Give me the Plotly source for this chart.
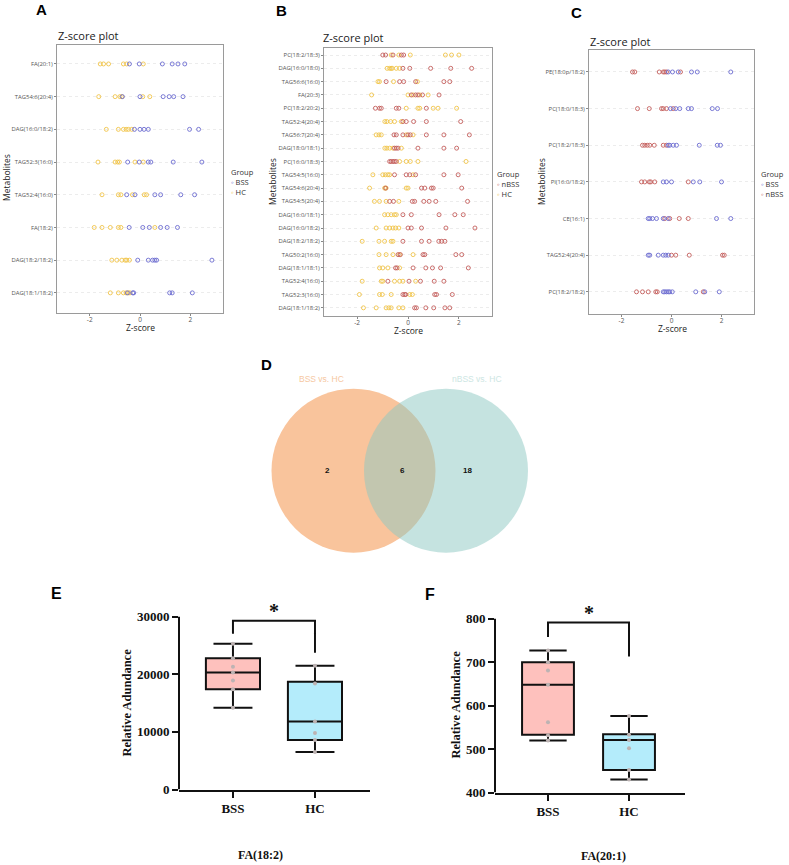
import plotly.graph_objects as go

W, H = 789, 865
H_EFF = 857.5  # observed effective vertical extent of the photographed page
def PX(x): return x / W
def PY(y): return 1 - y / H_EFF

BSS_COLOR = "#6c6cd0"
HC_COLOR = "#f0c44a"
NBSS_COLOR = "#c45f5c"

# ---------------- Panel A: BSS vs HC ----------------
A_metabolites = ["FA(20:1)", "TAG54:6(20:4)", "DAG(16:0/18:2)", "TAG52:3(16:0)",
                 "TAG52:4(16:0)", "FA(18:2)", "DAG(18:2/18:2)", "DAG(18:1/18:2)"]
A_BSS = [
    [-0.42, -0.03, 0.89, 1.28, 1.51, 1.78],
    [-0.70, 0.00, 0.92, 1.16, 1.34, 1.71],
    [-0.22, 0.00, 0.16, 0.33, 1.97, 2.33],
    [-0.49, -0.03, 0.33, 0.43, 1.32, 2.46],
    [-0.53, -0.20, 0.59, 0.82, 1.62, 2.17],
    [-0.43, 0.11, 0.37, 0.82, 1.08, 1.49],
    [-0.09, 0.33, 0.50, 0.59, 0.66, 2.86],
    [-0.50, -0.29, -0.25, 1.18, 1.28, 2.08],
]
A_HC = [
    [-1.58, -1.45, -1.25, -0.66, -0.53, 0.13],
    [-1.64, -0.99, -0.80, -0.72, 0.11, 0.39],
    [-1.34, -0.86, -0.66, -0.55, -0.46, -0.33],
    [-1.67, -0.99, -0.89, -0.82, -0.20, 0.13],
    [-1.51, -0.86, -0.76, -0.30, 0.17, 0.26],
    [-1.82, -1.51, -1.18, -0.86, -0.76, 0.59],
    [-1.12, -0.92, -0.72, -0.59, -0.53, -0.42],
    [-1.18, -0.86, -0.66, -0.55, -0.46, -0.40],
]

# ---------------- Panel B: nBSS vs HC ----------------
B_metabolites = ["PC(18:2/18:3)", "DAG(16:0/18:0)", "TAG56:6(16:0)", "FA(20:3)", "PC(18:2/20:2)",
                 "TAG52:4(20:4)", "TAG56:7(20:4)", "DAG(18:0/18:1)", "PC(16:0/18:3)", "TAG54:5(16:0)",
                 "TAG54:6(20:4)", "TAG54:5(20:4)", "DAG(16:0/18:1)", "DAG(16:0/18:2)", "DAG(18:2/18:2)",
                 "TAG50:2(16:0)", "DAG(18:1/18:1)", "TAG52:4(16:0)", "TAG52:3(16:0)", "DAG(18:1/18:2)"]
B_nBSS = [
    [-0.99, -0.88, -0.59, -0.26, -0.17],
    [-0.20, 0.07, 0.89, 1.68, 2.50],
    [-0.86, -0.33, -0.17, 0.30, 1.41, 1.64],
    [0.13, 0.30, 0.39, 0.57, 1.22],
    [-1.28, -1.12, -1.05, -0.46, -0.36, 0.72],
    [-0.20, -0.07, 0.22, 0.72, 2.07],
    [-0.55, -0.46, -0.20, 0.00, 0.09, 0.72, 1.41, 2.41],
    [-0.53, -0.46, -0.39, 0.39, 1.41, 1.91],
    [-0.72, -0.66, -0.59, -0.53, -0.46],
    [-0.53, -0.07, 0.07, 0.30, 1.41, 1.97],
    [-0.88, 0.53, 0.66, 0.92, 0.99, 2.11],
    [-0.72, -0.57, 0.17, 0.26, 0.62, 0.83, 1.09, 2.34],
    [-0.20, 0.13, 1.22, 1.84, 2.17],
    [0.00, 0.13, 0.53, 1.49, 2.63],
    [-0.20, 0.53, 0.83, 1.21, 1.32, 1.45],
    [-0.39, -0.30, 0.59, 0.66, 1.88, 2.11],
    [-0.49, -0.43, 0.20, 0.70, 0.96, 1.28, 2.37],
    [-0.79, 0.04, 0.49, 1.03, 1.41],
    [-0.20, -0.13, -0.09, 1.05, 1.12, 1.74],
    [0.26, 0.33, 0.70, 1.01, 1.45, 1.64],
]
B_HC = [
    [-0.66, -0.36, 0.09, 1.47, 1.71, 2.00],
    [-0.82, -0.72, -0.66, -0.62, -0.46, -0.33],
    [-1.18, -1.12, -0.57, 0.37],
    [-1.43, 0.00, 0.20, 0.46, 0.79],
    [-0.07, 0.39, 0.46, 0.99, 1.18, 1.91],
    [-0.91, -0.83, -0.68, -0.53, -0.26],
    [-1.25, -1.14, -1.05, -0.07, 0.20],
    [-0.91, -0.83, -0.72, -0.59, -0.26],
    [-0.33, -0.07, 0.09, 0.39, 2.28],
    [-1.38, -0.99, -0.89, -0.79, -0.72, 0.20],
    [-1.51, -0.92, -0.86, -0.07, 0.00],
    [-1.32, -1.12, -0.86, -0.36],
    [-0.92, -0.79, -0.66, -0.53, -0.46],
    [-1.25, -0.86, -0.72, -0.59, -0.49, -0.36],
    [-1.80, -1.14, -0.92, -0.66, -0.59],
    [-1.14, -0.86, -0.59, -0.33, 0.20],
    [-1.12, -0.99, -0.79, -0.33],
    [-1.80, -1.05, -0.99, -0.53, -0.33, -0.20, 0.30],
    [-1.91, -1.12, -1.01, -0.66, 0.07, 0.17],
    [-1.75, -1.25, -0.86, -0.75, -0.66, -0.36, -0.20],
]

# ---------------- Panel C: BSS vs nBSS ----------------
C_metabolites = ["PE(18:0p/18:2)", "PC(18:0/18:3)", "PC(18:2/18:3)", "PI(16:0/18:2)",
                 "CE(16:1)", "TAG52:4(20:4)", "PC(18:2/18:2)"]
C_BSS = [
    [-0.13, 0.04, 0.27, 0.80, 1.03, 2.37],
    [-0.04, 0.17, 0.33, 0.67, 0.80, 1.63, 1.84],
    [-0.13, -0.07, 0.07, 0.20, 1.11, 1.83, 1.96],
    [-0.33, -0.20, 0.00, 0.87, 1.13, 2.00],
    [-0.93, -0.87, -0.76, -0.60, -0.33, -0.13, 1.80, 2.37],
    [-0.93, -0.87, -0.53, -0.33, -0.23, -0.13],
    [-0.33, -0.27, -0.20, -0.13, -0.07, 0.03, 0.97, 1.33, 1.91],
]
C_nBSS = [
    [-1.56, -1.47, -0.49, -0.33, -0.27, -0.20, 0.36],
    [-1.36, -0.89, -0.40, -0.33, -0.20, 0.07],
    [-1.16, -1.07, -0.97, -0.87, -0.69, -0.33, -0.20],
    [-1.20, -1.07, -0.89, -0.83, -0.67, 0.67],
    [-0.27, -0.07, 0.31, 0.67],
    [0.00, 0.17, 0.71, 2.04, 2.11],
    [-1.40, -1.16, -0.93, -0.63, -0.57, 1.27],
]

# ---------------- Panel D: Venn ----------------
venn_sets = ["BSS vs. HC", "nBSS vs. HC"]
venn_counts = [2, 6, 18]  # only BSS, shared, only nBSS

# ---------------- Panels E / F: box plots ----------------
box_groups = ["BSS", "HC"]
E_stats = {"q1": [17400, 8600], "median": [20300, 11800], "q3": [22800, 18700],
           "low": [14200, 6500], "high": [25300, 21500]}
E_points = [[14200, 17400, 18900, 20300, 21300, 22800, 25300],
            [6500, 8600, 9800, 11800, 18400, 21500]]
E_bracket = [27050, 29300, 29300, 23750]
F_stats = {"q1": [533, 452], "median": [648, 521], "q3": [700, 534],
           "low": [520, 430], "high": [727, 576]}
F_points = [[520, 532, 562, 648, 681, 700, 727],
            [430, 452, 502, 521, 533, 576]]
F_bracket = [758, 791, 791, 713]

fig = go.Figure()

def dots(cats, values, color, xa, ya):
    xs, ys = [], []
    for c, vals in zip(cats, values):
        xs += vals
        ys += [c] * len(vals)
    fig.add_trace(go.Scatter(x=xs, y=ys, mode="markers", xaxis=xa, yaxis=ya, showlegend=False,
                             marker=dict(symbol="circle-open", size=4, color=color, line=dict(width=0.9))))

dots(A_metabolites, A_HC, HC_COLOR, "x", "y")
dots(A_metabolites, A_BSS, BSS_COLOR, "x", "y")
dots(B_metabolites, B_HC, HC_COLOR, "x2", "y2")
dots(B_metabolites, B_nBSS, NBSS_COLOR, "x2", "y2")
dots(C_metabolites, C_nBSS, NBSS_COLOR, "x3", "y3")
dots(C_metabolites, C_BSS, BSS_COLOR, "x3", "y3")

# invisible trace to activate Venn axes
fig.add_trace(go.Scatter(x=[300], y=[470], mode="markers", marker=dict(opacity=0),
                         xaxis="x4", yaxis="y4", showlegend=False, hoverinfo="skip"))

box_fill = ["#fec1bd", "#b4ecfb"]

def boxes(stats, points, bracket, xa, ya, width):
    for i, g in enumerate(box_groups):
        fig.add_trace(go.Box(x=[g], q1=[stats["q1"][i]], median=[stats["median"][i]], q3=[stats["q3"][i]],
                             lowerfence=[stats["low"][i]], upperfence=[stats["high"][i]],
                             fillcolor=box_fill[i], line=dict(color="#111111", width=2),
                             width=width, whiskerwidth=0.72, boxpoints=False,
                             xaxis=xa, yaxis=ya, showlegend=False))
        fig.add_trace(go.Scatter(x=[g] * len(points[i]), y=points[i], mode="markers",
                                 marker=dict(size=4, color="#bdb3b3"),
                                 xaxis=xa, yaxis=ya, showlegend=False))
    fig.add_trace(go.Scatter(x=[box_groups[0], box_groups[0], box_groups[1], box_groups[1]], y=bracket,
                             mode="lines", line=dict(color="#111111", width=2),
                             xaxis=xa, yaxis=ya, showlegend=False))

boxes(E_stats, E_points, E_bracket, "x5", "y5", 0.66)
boxes(F_stats, F_points, F_bracket, "x6", "y6", 0.64)

FONT = "Open Sans"
tickfont = dict(family=FONT, size=5.9, color="#555555")

def dot_axes(xdom, ydom, cats, top_pad, bot_pad):
    xa = dict(domain=xdom, range=[-3.3, 3.3], tickvals=[-2, 0, 2], ticktext=["-2", "0", "2"],
              ticks="outside", ticklen=2, tickcolor="#888888", ticklabelstandoff=-2,
              tickfont=dict(family=FONT, size=6.5, color="#555555"),
              showline=True, mirror=True, linecolor="#9a9a9a", linewidth=1,
              showgrid=False, zeroline=False)
    ya = dict(domain=ydom, type="category", categoryorder="array", categoryarray=cats,
              range=[len(cats) - 1 + bot_pad, -top_pad],
              ticks="outside", ticklen=2, tickcolor="#888888", tickfont=tickfont,
              showline=True, mirror=True, linecolor="#9a9a9a", linewidth=1,
              showgrid=True, gridcolor="#ececec", griddash="dot", gridwidth=1, zeroline=False)
    return xa, ya

xa1, ya1 = dot_axes([PX(57), PX(223)], [PY(313), PY(45)], A_metabolites, 0.58, 0.61)
xa2, ya2 = dot_axes([PX(324), PX(492)], [PY(316), PY(48)], B_metabolites, 0.53, 0.6)
xa3, ya3 = dot_axes([PX(589), PX(754)], [PY(314), PY(50)], C_metabolites, 0.6, 0.6)
ya2["anchor"] = "x2"; xa2["anchor"] = "y2"
ya3["anchor"] = "x3"; xa3["anchor"] = "y3"

serif_tick = dict(family="Liberation Serif", size=13, color="#111111", weight="bold")

def box_axes(xdom, ydom, xr, yr, tickvals, anchor_x, anchor_y):
    xa = dict(domain=xdom, range=xr, type="category", anchor=anchor_y,
              showline=True, linecolor="#111111", linewidth=2, ticks="outside", ticklen=6,
              tickwidth=2, tickcolor="#111111", tickfont=serif_tick, showgrid=False, zeroline=False)
    ya = dict(domain=ydom, range=yr, anchor=anchor_x, tickvals=tickvals,
              ticktext=[str(v) for v in tickvals],
              showline=False, ticks="outside", ticklen=6, tickwidth=2, tickcolor="#111111",
              tickfont=serif_tick, showgrid=False, zeroline=False)
    return xa, ya

xa5, ya5 = box_axes([PX(179), PX(370)], [PY(790), PY(602.6)], [-0.658, 1.671], [0, 32500],
                    [0, 10000, 20000, 30000], "x5", "y5")
xa6, ya6 = box_axes([PX(495), PX(685)], [PY(793), PY(606)], [-0.654, 1.691], [400, 830],
                    [400, 500, 600, 700, 800], "x6", "y6")

fig.update_layout(
    width=W, height=H, margin=dict(l=0, r=0, t=0, b=0),
    plot_bgcolor="white", paper_bgcolor="white", showlegend=False,
    xaxis=xa1, yaxis=ya1, xaxis2=xa2, yaxis2=ya2, xaxis3=xa3, yaxis3=ya3,
    xaxis4=dict(domain=[PX(250), PX(550)], range=[250, 550], visible=False, anchor="y4"),
    yaxis4=dict(domain=[PY(560), PY(370)], range=[560, 370], visible=False, anchor="x4"),
    xaxis5=xa5, yaxis5=ya5, xaxis6=xa6, yaxis6=ya6,
)

shapes = []
# Venn circles
shapes.append(dict(type="circle", xref="x4", yref="y4", x0=271.5, x1=435.5, y0=389, y1=553,
                   fillcolor="rgb(249,196,156)", line=dict(width=0), layer="below"))
shapes.append(dict(type="circle", xref="x4", yref="y4", x0=364, x1=528, y0=389, y1=553,
                   fillcolor="rgba(139,199,193,0.5)", line=dict(width=0), layer="below"))
# y axis lines of box plots (ending at top tick)
shapes.append(dict(type="line", xref="x5 domain", yref="y5", x0=0, x1=0, y0=0, y1=30000,
                   line=dict(color="#111111", width=2)))
shapes.append(dict(type="line", xref="x6 domain", yref="y6", x0=0, x1=0, y0=400, y1=800,
                   line=dict(color="#111111", width=2)))
fig.update_layout(shapes=shapes)

ann = []
def text(x, y, s, size, color="#222222", family=FONT, bold=False, xanchor="center", yanchor="middle",
         angle=0, align="center", xref="paper", yref="paper"):
    ann.append(dict(x=x if xref != "paper" else PX(x), y=y if yref != "paper" else PY(y),
                    xref=xref, yref=yref, text=("<b>%s</b>" % s) if bold else s,
                    showarrow=False, xanchor=xanchor, yanchor=yanchor, textangle=angle, align=align,
                    font=dict(size=size, color=color, family=family)))

LETTER = "Liberation Sans"
text(41, 10, "A", 15, "#000000", LETTER, True)
text(281, 11, "B", 15, "#000000", LETTER, True)
text(576, 13, "C", 15, "#000000", LETTER, True)
text(266, 365, "D", 15, "#000000", LETTER, True)
text(56, 594, "E", 16, "#000000", LETTER, True)
text(430, 595, "F", 16, "#000000", LETTER, True)

# dot plot titles / axis titles
text(56, 36, "Z-score plot", 11, "#222222", FONT, xanchor="left")
text(321, 38, "Z-score plot", 11, "#222222", FONT, xanchor="left")
text(588, 42, "Z-score plot", 11, "#222222", FONT, xanchor="left")
text(140, 328, "Z-score", 8.5, "#222222")
text(408, 331, "Z-score", 8.5, "#222222")
text(672, 329, "Z-score", 8.5, "#222222")
text(7, 178, "Metabolites", 8.5, "#222222", angle=-90)
text(273, 182, "Metabolites", 8.5, "#222222", angle=-90)
text(542, 182, "Metabolites", 8.5, "#222222", angle=-90)

def legend(x, y, items):
    s = "Group"
    for name, col, sym in items:
        s += "<br><span style='color:%s'>%s</span> %s" % (col, sym, name)
    text(x, y, s, 7.5, "#333333", FONT, xanchor="left", yanchor="top", align="left")

legend(229, 165, [("BSS", BSS_COLOR, "◦"), ("HC", HC_COLOR, "◦")])
legend(495, 167, [("nBSS", NBSS_COLOR, "◦"), ("HC", HC_COLOR, "◦")])
legend(759, 167, [("BSS", BSS_COLOR, "◦"), ("nBSS", NBSS_COLOR, "◦")])

# Venn labels
text(321, 379, venn_sets[0], 8.5, "#f6c8a2", "Liberation Sans")
text(477, 379, venn_sets[1], 8.5, "#cde6e3", "Liberation Sans")
for cx, n in zip([327, 403, 467], venn_counts):
    text(cx, 471, str(n), 8, "#111111", "Liberation Sans", True)

# box plot annotations
SERIF = "Liberation Serif"
text(127, 703, "Relative Adundance", 12.5, "#111111", SERIF, True, angle=-90)
text(456, 705, "Relative Adundance", 12.5, "#111111", SERIF, True, angle=-90)
text(260, 855, "FA(18:2)", 12, "#111111", SERIF, True)
text(603, 856, "FA(20:1)", 12, "#111111", SERIF, True)
text(0.5, 31000, "*", 20, "#111111", SERIF, True, xref="x5", yref="y5")
text(0.5, 812, "*", 20, "#111111", SERIF, True, xref="x6", yref="y6")

fig.update_layout(annotations=ann)
post = ("var h=document.documentElement,b=document.body;"
        "h.style.margin='0';h.style.padding='0';h.style.overflow='hidden';"
        "b.style.margin='0';b.style.padding='0';b.style.overflow='hidden';")
fig.write_html("out.html", config={"displayModeBar": False}, post_script=post)
